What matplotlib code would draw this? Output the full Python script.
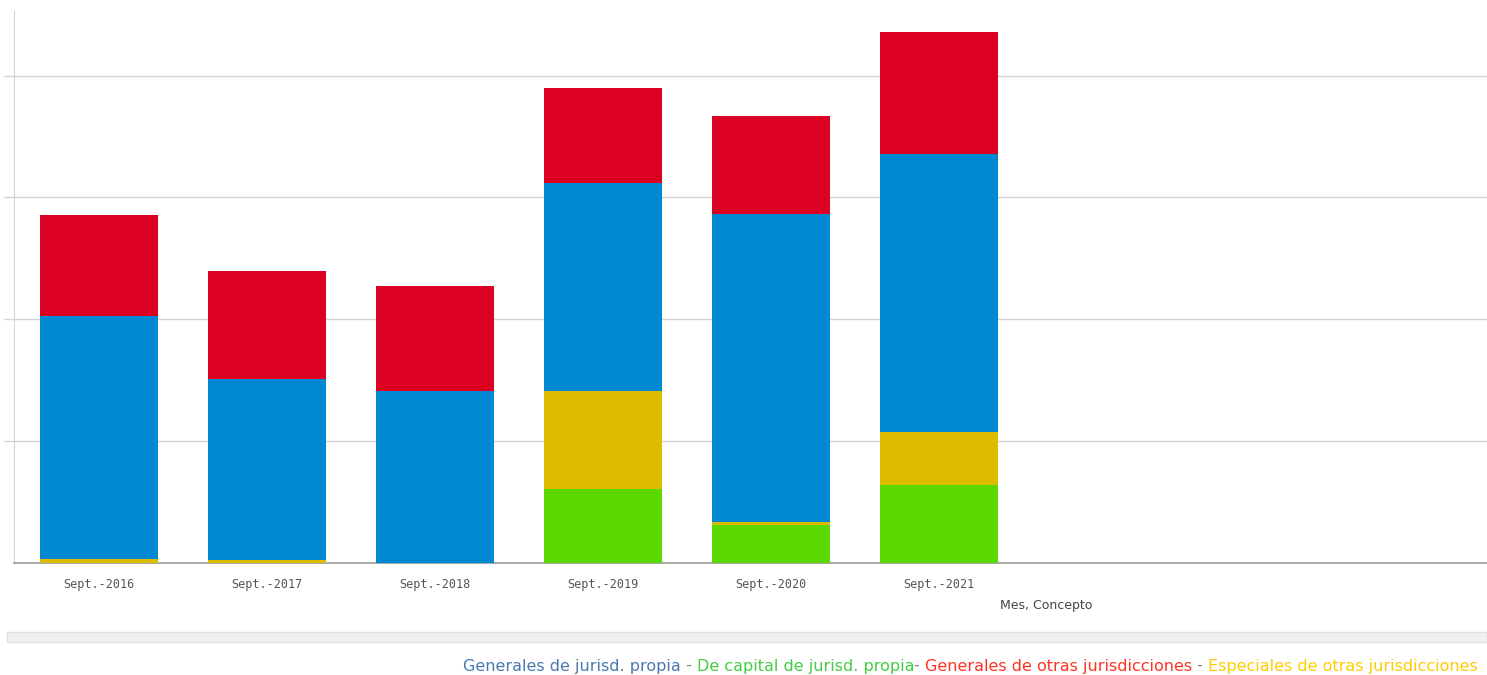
import matplotlib
matplotlib.use("Agg")
from matplotlib import pyplot as plt
from matplotlib import font_manager
from matplotlib.patches import Rectangle
import numpy as np

meses = ["Sept.-2016", "Sept.-2017", "Sept.-2018", "Sept.-2019", "Sept.-2020", "Sept.-2021"]
capital_propia = [0, 0, 0, 61, 31, 64]          # verde
especiales_otras = [3.3, 2.5, 0, 80.5, 2.5, 43.5]  # amarillo
generales_propia = [199.6, 148.7, 141.3, 170, 253, 228.3]  # azul
generales_otras = [83, 88.7, 86.2, 78, 80.5, 100.2]  # rojo

c_verde = "#5cd900"
c_amarillo = "#dcbb00"
c_azul = "#0088d1"
c_rojo = "#dc0023"

W, H = 1487, 675
fig = plt.figure(figsize=(W / 100, H / 100), dpi=100)
ax = fig.add_axes([14 / W, (H - 563) / H, (W - 14) / W, (563 - 11) / H])

x = np.arange(len(meses))
bottom = np.zeros(len(meses))
for vals, col in [(capital_propia, c_verde), (especiales_otras, c_amarillo),
                  (generales_propia, c_azul), (generales_otras, c_rojo)]:
    ax.bar(x, vals, width=0.70, bottom=bottom, color=col, zorder=3)
    bottom += np.array(vals)

ax.set_xlim(-0.506, 8.26)
ax.set_ylim(0, 453)
ax.set_yticks([100, 200, 300, 400])
ax.set_yticklabels([])
ax.tick_params(axis="y", length=7, color="#d3d3d3", width=1)
ax.grid(axis="y", color="#d3d3d3", linewidth=1, zorder=0)
ax.set_xticks(x)
ax.set_xticklabels(meses, family="DejaVu Sans Mono", fontsize=8.5, color="#555555")
ax.tick_params(axis="x", length=0, pad=11)
for s in ["top", "right"]:
    ax.spines[s].set_visible(False)
ax.spines["left"].set_color("#d3d3d3")
ax.spines["bottom"].set_color("#999999")
ax.spines["bottom"].set_linewidth(1.2)

fig.text(1000 / W, 1 - 605 / H, "Mes, Concepto", fontsize=9, color="#444444",
         ha="left", va="center")

# barra gris inferior
fig.patches.append(Rectangle((7 / W, 1 - 642 / H), (W - 7) / W, 10 / H,
                             transform=fig.transFigure, facecolor="#f0f0f0",
                             edgecolor="#e0e0e0", linewidth=1))

# leyenda multicolor
nombres = {f.name for f in font_manager.fontManager.ttflist}
if "Liberation Sans Narrow" in nombres:
    fam, fs = "Liberation Sans Narrow", 13.5
else:
    fam, fs = "DejaVu Sans", 11.5
partes = [("Generales de jurisd. propia", "#4a78b0"), (" - ", "#888888"),
          ("De capital de jurisd. propia", "#44cc44"), ("- ", "#888888"),
          ("Generales de otras jurisdicciones", "#ff3322"), (" - ", "#888888"),
          ("Especiales de otras jurisdicciones", "#ffcc00")]
fig.canvas.draw()
r = fig.canvas.get_renderer()
xpos = 1478
for txt, col in reversed(partes):
    t = fig.text(xpos / W, 1 - 666 / H, txt, color=col, fontsize=fs,
                 family=fam, ha="right", va="center")
    bb = t.get_window_extent(renderer=r)
    xpos -= bb.width

fig.savefig("out.png", dpi=100)
